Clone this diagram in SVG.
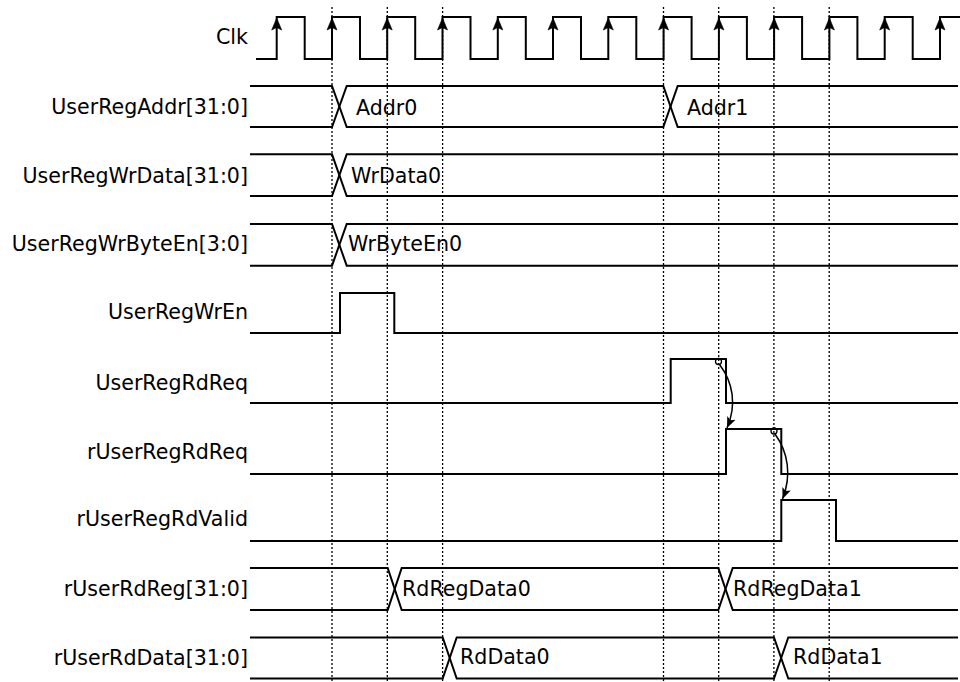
<svg xmlns="http://www.w3.org/2000/svg" xmlns:xlink="http://www.w3.org/1999/xlink" width="960" height="682" viewBox="0 0 960 682">
<style>
.bg{fill:#fff}
.w{fill:none;stroke:#000;stroke-width:2;stroke-linejoin:miter}
.grid{stroke:#000;stroke-width:1.3;stroke-dasharray:2,2}
.lbl{font-family:"DejaVu Sans","Liberation Sans",sans-serif;font-size:20.6px;fill:#000;text-anchor:end}
.val{font-family:"DejaVu Sans","Liberation Sans",sans-serif;font-size:20.6px;fill:#000}
.arr{fill:none;stroke:#000;stroke-width:1.5}
.dot{fill:none;stroke:#000;stroke-width:1.3}
</style>
<defs>
<path id="ca" d="M0,0 L-5,12 L0,9.5 L5,12 Z" fill="#000" stroke="#000" stroke-width="0.6"/>
<marker id="ah" viewBox="0 0 12 12" refX="11" refY="6" markerWidth="12" markerHeight="12" markerUnits="userSpaceOnUse" orient="auto">
<path d="M0,1.5 L11,6 L0,10.5 L2.5,6 Z" fill="#000"/>
</marker>
</defs>
<rect class="bg" x="0" y="0" width="960" height="682"/>
<g id="grid">
<line class="grid" x1="332" y1="7" x2="332" y2="682"/>
<line class="grid" x1="387.3" y1="7" x2="387.3" y2="682"/>
<line class="grid" x1="442.6" y1="7" x2="442.6" y2="682"/>
<line class="grid" x1="663.5" y1="7" x2="663.5" y2="682"/>
<line class="grid" x1="718.7" y1="7" x2="718.7" y2="682"/>
<line class="grid" x1="773.9" y1="7" x2="773.9" y2="682"/>
<line class="grid" x1="829.2" y1="7" x2="829.2" y2="682"/>
</g>
<g id="clk">
<text class="lbl" x="248" y="44">Clk</text>
<path class="w" d="M256 59 H276.7 V17 H304.7 V59 H332 V17 H360 V59 H387.2 V17 H415.2 V59 H442.5 V17 H470.5 V59 H497.8 V17 H525.8 V59 H553 V17 H581 V59 H608.3 V17 H636.3 V59 H663.6 V17 H691.6 V59 H718.9 V17 H746.9 V59 H774.1 V17 H802.1 V59 H829.4 V17 H857.4 V59 H884.7 V17 H912.7 V59 H940 V17 H960"/>
<use xlink:href="#ca" x="276.7" y="18"/>
<use xlink:href="#ca" x="332" y="18"/>
<use xlink:href="#ca" x="387.2" y="18"/>
<use xlink:href="#ca" x="442.5" y="18"/>
<use xlink:href="#ca" x="497.8" y="18"/>
<use xlink:href="#ca" x="553" y="18"/>
<use xlink:href="#ca" x="608.3" y="18"/>
<use xlink:href="#ca" x="663.6" y="18"/>
<use xlink:href="#ca" x="718.9" y="18"/>
<use xlink:href="#ca" x="774.1" y="18"/>
<use xlink:href="#ca" x="829.4" y="18"/>
<use xlink:href="#ca" x="884.7" y="18"/>
<use xlink:href="#ca" x="940" y="18"/>
</g>
<g id="UserRegAddr">
<text class="lbl" x="248" y="113.5">UserRegAddr[31:0]</text>
<path class="w" d="M250 86 H332 L346.7 127 H663.3 L677.7 86 H958"/>
<path class="w" d="M250 127 H332 L346.7 86 H663.3 L677.7 127 H958"/>
<text class="val" x="356" y="115">Addr0</text>
<text class="val" x="687" y="115">Addr1</text>
</g>
<g id="UserRegWrData">
<text class="lbl" x="248" y="182.5">UserRegWrData[31:0]</text>
<path class="w" d="M250 154.3 H332 L346.7 196 H958"/>
<path class="w" d="M250 196 H332 L346.7 154.3 H958"/>
<text class="val" x="351" y="183">WrData0</text>
</g>
<g id="UserRegWrByteEn">
<text class="lbl" x="248" y="251">UserRegWrByteEn[3:0]</text>
<path class="w" d="M250 224 H332 L346.7 265.7 H958"/>
<path class="w" d="M250 265.7 H332 L346.7 224 H958"/>
<text class="val" x="348" y="251">WrByteEn0</text>
</g>
<g id="UserRegWrEn">
<text class="lbl" x="248" y="318.5">UserRegWrEn</text>
<path class="w" d="M250 333 H340 V293 H394.3 V333 H958"/>
</g>
<g id="UserRegRdReq">
<text class="lbl" x="248" y="390">UserRegRdReq</text>
<path class="w" d="M250 403 H670.7 V359 H726 V403 H958"/>
</g>
<g id="rUserRegRdReq">
<text class="lbl" x="248" y="458.5">rUserRegRdReq</text>
<path class="w" d="M250 474 H726 V429 H781.3 V474 H958"/>
</g>
<g id="rUserRegRdValid">
<text class="lbl" x="248" y="525.5">rUserRegRdValid</text>
<path class="w" d="M250 541 H781.3 V500 H836 V541 H958"/>
</g>
<g id="rUserRdReg">
<text class="lbl" x="248" y="596">rUserRdReg[31:0]</text>
<path class="w" d="M250 568 H387.7 L401.7 610 H718.3 L732.7 568 H958"/>
<path class="w" d="M250 610 H387.7 L401.7 568 H718.3 L732.7 610 H958"/>
<text class="val" x="402" y="596">RdRegData0</text>
<text class="val" x="733" y="596">RdRegData1</text>
</g>
<g id="rUserRdData">
<text class="lbl" x="248" y="665">rUserRdData[31:0]</text>
<path class="w" d="M250 637.5 H442.7 L456.7 678.5 H774 L788.3 637.5 H958"/>
<path class="w" d="M250 678.5 H442.7 L456.7 637.5 H774 L788.3 678.5 H958"/>
<text class="val" x="460" y="664">RdData0</text>
<text class="val" x="793" y="664">RdData1</text>
</g>
<g id="connectors">
<circle class="dot" cx="718.5" cy="361.5" r="3"/>
<path class="arr" marker-end="url(#ah)" d="M719.5 364.5 C733 382 737 405 727 428"/>
<circle class="dot" cx="774" cy="431" r="3"/>
<path class="arr" marker-end="url(#ah)" d="M775 434 C788 452 792 475 782.5 499"/>
</g>
</svg>
